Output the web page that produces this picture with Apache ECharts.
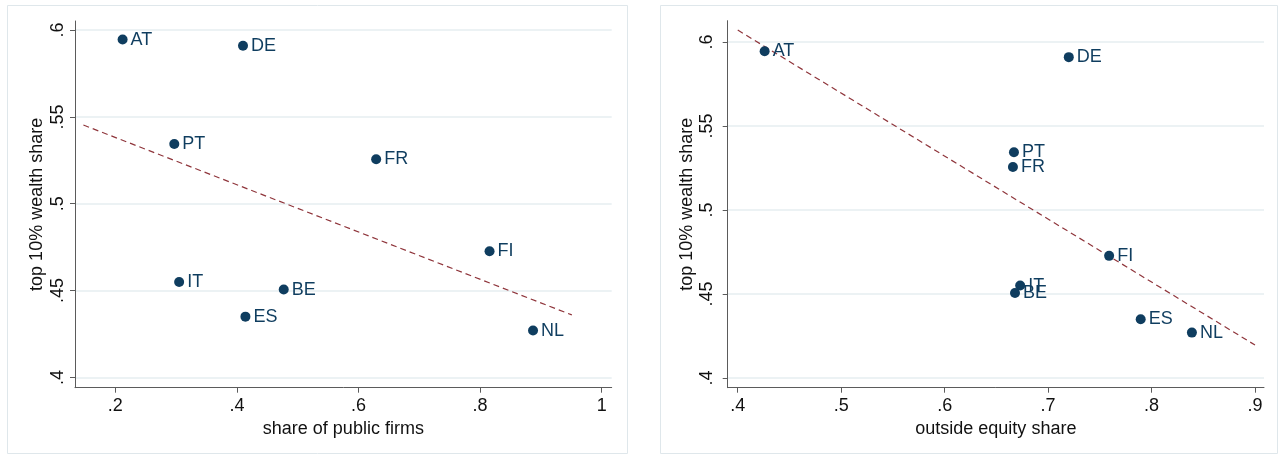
<!DOCTYPE html>
<html>
<head>
<meta charset="utf-8">
<title>Top 10% wealth share vs. firm ownership</title>
<script src="https://cdn.jsdelivr.net/npm/echarts@6/dist/echarts.min.js"></script>
<style>
  html, body { margin: 0; padding: 0; background: #ffffff; }
  #chart { width: 1281px; height: 455px; }
</style>
</head>
<body>
<div id="chart"></div>
<script>
// Country observations
const countries = ['AT', 'DE', 'PT', 'FR', 'FI', 'IT', 'BE', 'ES', 'NL'];
const publicFirmShare = [0.212, 0.410, 0.297, 0.629, 0.8155, 0.305, 0.477, 0.414, 0.887];
const outsideEquityShare = [0.426, 0.720, 0.667, 0.666, 0.759, 0.673, 0.668, 0.7895, 0.839];
const top10WealthShare = [0.5945, 0.591, 0.5344, 0.5256, 0.4727, 0.455, 0.4506, 0.435, 0.427];

// Fitted-line end points (x, y) for each panel
const fitPublic = [[0.1475, 0.5453], [0.9508, 0.4360]];
const fitOutside = [[0.40, 0.6071], [0.90, 0.4196]];

// Tick values
const yTicks = [0.4, 0.45, 0.5, 0.55, 0.6];
const xTicksPublic = [0.2, 0.4, 0.6, 0.8, 1];
const xTicksOutside = [0.4, 0.5, 0.6, 0.7, 0.8, 0.9];

const FONT = '"Liberation Sans", Arial, Helvetica, sans-serif';
const NAVY = '#0f3d5f';
const FIT = '#8f353b';
const AXIS = '#5b5b5b';
const GRID = '#e6eef1';

// Stata-style number labels: ".2", ".45", "1"
const fmt = v => {
  const s = String(+(+v).toFixed(2));
  return s.startsWith('0.') ? s.slice(1) : s;
};

function pairs(xs, ys) {
  return xs.map((x, i) => [x, ys[i], countries[i]]);
}

function xAxisFor(idx, ticks, min, max, name) {
  return {
    type: 'value', gridIndex: idx, min: min, max: max,
    name: name, nameLocation: 'middle', nameGap: 29,
    nameTextStyle: { fontFamily: FONT, fontSize: 18, color: '#111' },
    axisLine: { show: true, onZero: false, lineStyle: { color: AXIS, width: 1 } },
    axisTick: { show: true, length: 5, customValues: ticks, lineStyle: { color: AXIS } },
    axisLabel: { customValues: ticks, formatter: fmt, margin: 9,
                 fontFamily: FONT, fontSize: 18, color: '#111' },
    splitLine: { show: false }
  };
}

function yAxisFor(idx, min, max, labelMargin, nameGap) {
  return {
    type: 'value', gridIndex: idx, min: min, max: max,
    name: 'top 10% wealth share', nameLocation: 'middle', nameGap: nameGap, nameRotate: 90,
    nameTextStyle: { fontFamily: FONT, fontSize: 18, color: '#111' },
    axisLine: { show: true, onZero: false, lineStyle: { color: AXIS, width: 1 } },
    axisTick: { show: true, length: 5, customValues: yTicks, lineStyle: { color: AXIS } },
    axisLabel: { customValues: yTicks, formatter: fmt, rotate: 90, margin: labelMargin,
                 fontFamily: FONT, fontSize: 18, color: '#111' },
    splitLine: { show: false }
  };
}

// Horizontal reference lines at the y ticks, kept beneath the marks
function gridLines(idx) {
  return {
    type: 'line', xAxisIndex: idx, yAxisIndex: idx, data: [], z: 0, silent: true,
    markLine: {
      z: 0, silent: true, symbol: 'none', animation: false,
      label: { show: false },
      lineStyle: { color: GRID, type: 'solid', width: 1.5 },
      data: yTicks.map(v => ({ yAxis: v }))
    }
  };
}

function fitSeries(idx, pts) {
  return {
    type: 'line', xAxisIndex: idx, yAxisIndex: idx, data: pts, z: 2,
    symbol: 'none', silent: true,
    lineStyle: { color: FIT, width: 1.2, type: [6, 4] }
  };
}

function dotSeries(idx, xs) {
  return {
    type: 'scatter', xAxisIndex: idx, yAxisIndex: idx, z: 6,
    data: pairs(xs, top10WealthShare),
    symbol: 'circle', symbolSize: 10,
    itemStyle: { color: NAVY, opacity: 1 },
    label: {
      show: true, position: 'right', distance: 3,
      formatter: p => p.data[2],
      fontFamily: FONT, fontSize: 18, color: NAVY
    }
  };
}

const chart = echarts.init(document.getElementById('chart'), null, { renderer: 'canvas' });
chart.setOption({
  animation: false,
  backgroundColor: '#ffffff',
  graphic: [
    { type: 'rect', shape: { x: 7.5, y: 5.5, width: 620, height: 448 },
      style: { fill: 'none', stroke: '#dfe7eb', lineWidth: 1 }, silent: true, z: -1 },
    { type: 'rect', shape: { x: 660.5, y: 5.5, width: 617, height: 448 },
      style: { fill: 'none', stroke: '#dfe7eb', lineWidth: 1 }, silent: true, z: -1 }
  ],
  grid: [
    { left: 75, top: 21, width: 536.7, height: 366.7 },
    { left: 727.7, top: 20.7, width: 536.3, height: 367 }
  ],
  xAxis: [
    xAxisFor(0, xTicksPublic, 0.1337, 1.0164, 'share of public firms'),
    xAxisFor(1, xTicksOutside, 0.3903, 0.9087, 'outside equity share')
  ],
  yAxis: [
    yAxisFor(0, 0.3941, 0.6052, 8, 29),
    yAxisFor(1, 0.3942, 0.6127, 12, 32)
  ],
  series: [
    gridLines(0), fitSeries(0, fitPublic), dotSeries(0, publicFirmShare),
    gridLines(1), fitSeries(1, fitOutside), dotSeries(1, outsideEquityShare)
  ]
});
</script>
</body>
</html>
